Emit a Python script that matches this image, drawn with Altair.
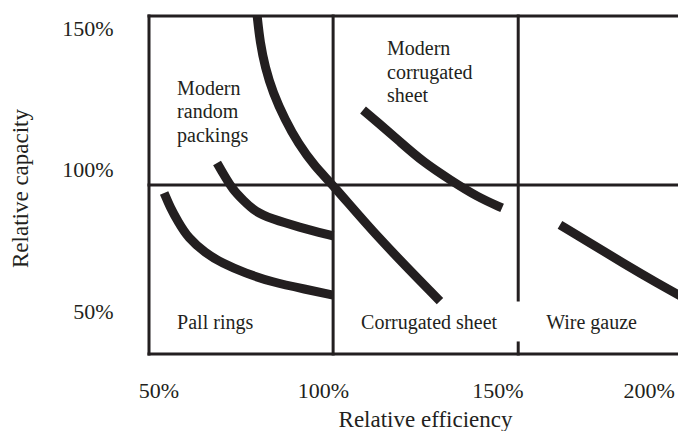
import altair as alt
import pandas as pd

INK = "#231f20"
FONT = "Liberation Serif"

# ---- axis tick values ----
efficiency_ticks = [50, 100, 150, 200]
capacity_ticks = [50, 100, 150]

# ---- plot frame and region boundaries (data units, %) ----
x_domain = [46.5, 207.4]
y_domain = [34.9, 154.3]
eff_div_1 = 102.5      # Pall rings | corrugated sheet boundary
eff_div_2 = 158.8      # corrugated sheet | wire gauze boundary
cap_div = 94.6         # conventional | modern boundary
gap_low, gap_high = 38.8, 54.0  # break in the second vertical boundary

# ---- curves: relative efficiency (%) vs relative capacity (%) ----
random_upper_x = [79.4, 80.3, 81.8, 84.2, 87.9, 91.8, 97.0, 102.5, 115.9, 135.0]
random_upper_y = [154.3, 144.8, 136.3, 127.1, 117.6, 109.4, 101.0, 94.6, 76.2, 53.6]

random_lower_x = [67.2, 69.3, 72.1, 75.1, 78.8, 83.9, 91.8, 102.5]
random_lower_y = [102.4, 98.1, 92.8, 89.3, 85.1, 82.6, 79.8, 76.6]

pall_x = [51.1, 52.9, 55.4, 58.4, 63.6, 68.7, 75.7, 83.9, 94.0, 102.5]
pall_y = [91.8, 86.8, 81.5, 75.9, 70.6, 67.0, 63.5, 60.3, 57.8, 55.7]

modern_corr_x = [111.6, 115.9, 122.9, 129.9, 138.1, 146.3, 153.9]
modern_corr_y = [121.1, 116.9, 109.8, 102.7, 96.4, 90.4, 86.5]

gauze_x = [171.5, 180.7, 190.7, 201.0, 209.9]
gauze_y = [80.5, 74.1, 67.0, 60.0, 54.3]

# ---- region labels ----
label_text = ["Modern\nrandom\npackings", "Modern\ncorrugated\nsheet",
              "Pall rings", "Corrugated sheet", "Wire gauze"]
label_x = [55.05, 118.9, 55.05, 111.0, 167.3]
label_y = [126.4, 140.5, 43.7, 43.7, 43.7]

rows = []
for name, xs, ys in [("random_upper", random_upper_x, random_upper_y),
                     ("random_lower", random_lower_x, random_lower_y),
                     ("pall", pall_x, pall_y),
                     ("modern_corr", modern_corr_x, modern_corr_y),
                     ("gauze", gauze_x, gauze_y)]:
    for i, (a, b) in enumerate(zip(xs, ys)):
        rows.append({"series": name, "eff": a, "cap": b, "order": i})
curves = pd.DataFrame(rows)

segments = pd.DataFrame([
    {"x": x_domain[0], "x2": x_domain[1], "y": y_domain[1], "y2": y_domain[1]},
    {"x": x_domain[0], "x2": x_domain[1], "y": y_domain[0], "y2": y_domain[0]},
    {"x": x_domain[0], "x2": x_domain[0], "y": y_domain[0], "y2": y_domain[1]},
    {"x": x_domain[0], "x2": x_domain[1], "y": cap_div, "y2": cap_div},
    {"x": eff_div_1, "x2": eff_div_1, "y": y_domain[0], "y2": y_domain[1]},
    {"x": eff_div_2, "x2": eff_div_2, "y": gap_high, "y2": y_domain[1]},
    {"x": eff_div_2, "x2": eff_div_2, "y": y_domain[0], "y2": gap_low},
])

labels = pd.DataFrame({"text": label_text, "x": label_x, "y": label_y})

xscale = alt.Scale(domain=x_domain, nice=False, zero=False)
yscale = alt.Scale(domain=y_domain, nice=False, zero=False)

x_axis = alt.Axis(values=efficiency_ticks, labelExpr="datum.value + '%'",
                  title="Relative efficiency", domain=False, ticks=False,
                  tickSize=0, grid=False, labelPadding=43,
                  labelBaseline="alphabetic", labelFontSize=22,
                  labelOffset={"expr": "datum.value == 150 ? 8 : (datum.value == 200 ? -5 : -2)"},
                  titleX=276, titleY=72, titleBaseline="alphabetic",
                  titleAlign="center", labelFlush=False, labelOverlap=False)
y_axis = alt.Axis(values=capacity_ticks, labelExpr="datum.value + '%'",
                  title="Relative capacity", domain=False, ticks=False,
                  tickSize=0, grid=False, labelPadding=36, labelFontSize=22,
                  titleX=-122, titleY=172, titleAngle=270,
                  titleBaseline="alphabetic", titleAlign="center",
                  labelFlush=False, labelOverlap=False)

curve_layer = alt.Chart(curves).mark_line(
    strokeWidth=9, color=INK, strokeCap="butt", strokeJoin="round",
    interpolate="basis", clip=True
).encode(
    x=alt.X("eff:Q", scale=xscale, axis=x_axis),
    y=alt.Y("cap:Q", scale=yscale, axis=y_axis),
    detail="series:N",
    order="order:Q",
)

rule_layer = alt.Chart(segments).mark_rule(
    strokeWidth=3, color=INK, strokeCap="square"
).encode(
    x=alt.X("x:Q", scale=xscale),
    x2="x2:Q",
    y=alt.Y("y:Q", scale=yscale),
    y2="y2:Q",
)

text_layer = alt.Chart(labels).mark_text(
    align="left", baseline="alphabetic", font=FONT, fontSize=20,
    lineBreak="\n", lineHeight=23.5, color=INK
).encode(
    x=alt.X("x:Q", scale=xscale),
    y=alt.Y("y:Q", scale=yscale),
    text="text:N",
)

chart = alt.layer(rule_layer, curve_layer, text_layer).properties(
    width=529, height=338,
    autosize=alt.AutoSizeParams(type="none"),
    padding={"left": 141, "top": 8, "right": 0, "bottom": 77},
).configure_view(stroke=None).configure_axis(
    labelFont=FONT, titleFont=FONT, labelColor=INK, titleColor=INK,
    titleFontSize=23, titleFontWeight="normal",
)

chart.save("out.html", embed_options={"renderer": "svg", "actions": False})
